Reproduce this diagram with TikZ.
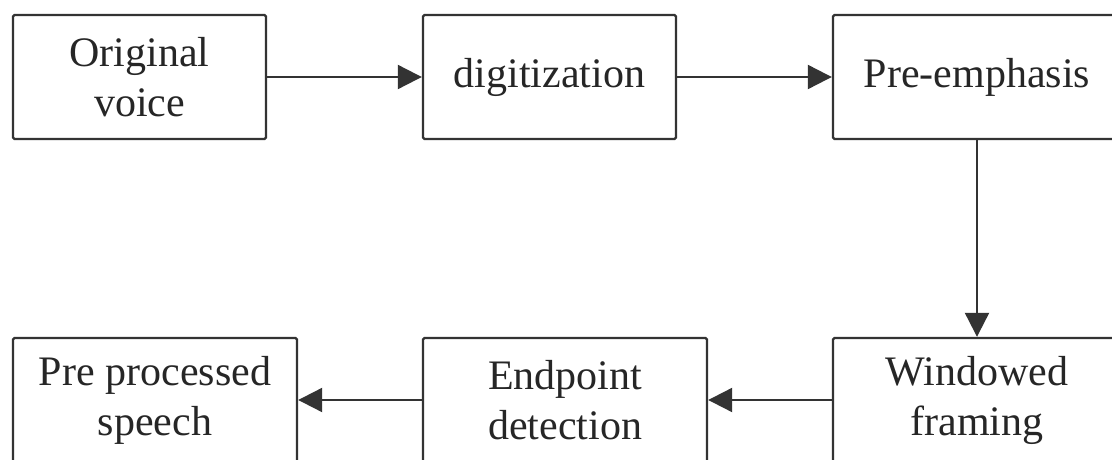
\documentclass[tikz,border=0pt]{standalone}
\usepackage{fontspec}
\setmainfont{Liberation Serif}
\usetikzlibrary{arrows.meta}
\begin{document}
\begin{tikzpicture}[x=1pt,y=-1pt,
  box/.style={draw=black!80, line width=2.4pt, rounded corners=1.5pt, minimum height=124pt, align=center, inner sep=0pt, font=\fontsize{42}{50}\selectfont, text=black!85},
  conn/.style={draw=black!80, line width=2.2pt, -{Triangle[length=24pt,width=24pt]}}]
\useasboundingbox (0,0) rectangle (1112,460);
\clip (0,0) rectangle (1112,460);
\fill[white] (0,0) rectangle (1112,460);
\node[box, minimum width=253pt] (orig) at (139.5,77) {Original\\voice};
\node[box, minimum width=253pt] (dig) at (549.5,77) {digitization};
\node[box, minimum width=288pt] (pre) at (977,77) {Pre-emphasis};
\node[box, minimum width=288pt] (win) at (977,400) {Windowed\\framing};
\node[box, minimum width=284pt] (end) at (565,400) {Endpoint\\detection};
\node[box, minimum width=284pt] (out) at (155,400) {Pre processed\\speech};
\draw[conn] (orig) -- (dig);
\draw[conn] (dig) -- (pre);
\draw[conn] (pre) -- (win);
\draw[conn] (win) -- (end);
\draw[conn] (end) -- (out);
\end{tikzpicture}
\end{document}
